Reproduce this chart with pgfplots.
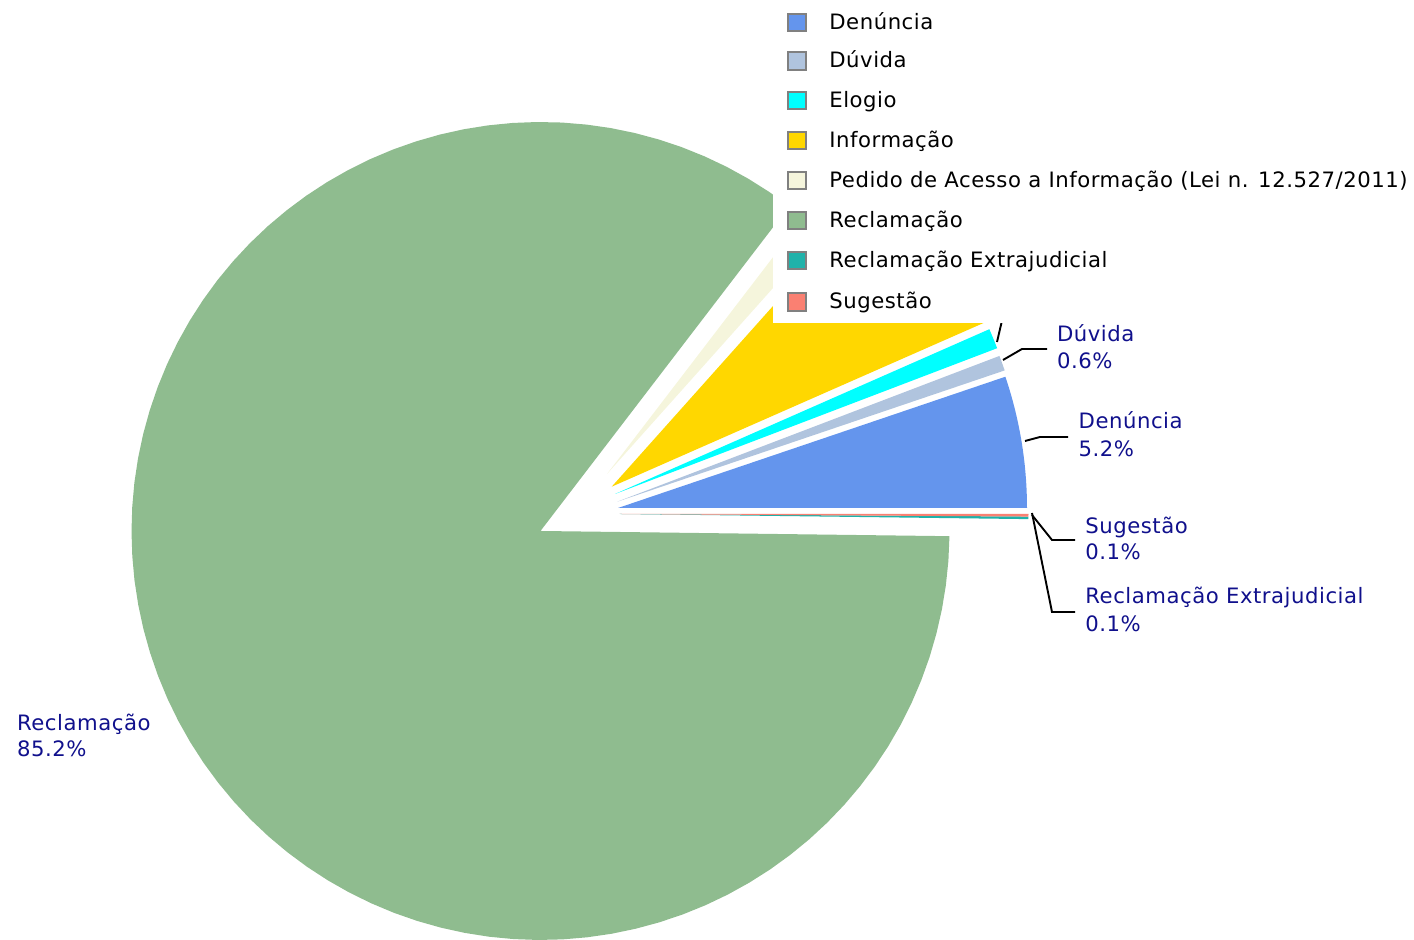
\documentclass[border=0pt]{standalone}
\usepackage{fontspec}
\setmainfont{DejaVu Sans}
\newfontfamily\spacedfont[LetterSpace=2.5]{DejaVu Sans}
\usepackage{pgfplots}
\usepackage{pgfplotstable}
\pgfplotsset{compat=1.18}

% slice colours, in the order of the legend
\definecolor{s0}{HTML}{6495ED} % Denuncia
\definecolor{s1}{HTML}{B0C4DE} % Duvida
\definecolor{s2}{HTML}{00FFFF} % Elogio
\definecolor{s3}{HTML}{FFD700} % Informacao
\definecolor{s4}{HTML}{F5F5DC} % Pedido de Acesso
\definecolor{s5}{HTML}{8FBC8F} % Reclamacao
\definecolor{s6}{HTML}{20B2AA} % Reclamacao Extrajudicial
\definecolor{s7}{HTML}{FA8072} % Sugestao
\definecolor{labelblue}{RGB}{16,16,140}
\definecolor{legborder}{RGB}{128,128,128}

% percent of each slice and how far it is pulled out (dx, dy)
\pgfplotstableread{
pct  dx   dy
5.2  77.5 23.0
0.6  76.8 29.3
0.8  74.5 37.0
6.8  71.2 44.3
1.2  66.5 57.0
85.2 0    0
0.1  79   17
0.1  79   17
}\piedata

\def\cx{540.5}
\def\cy{-531}
\def\R{409}

\newcommand\legfont{\spacedfont\fontsize{10.6}{12}\selectfont}
\newcommand\labfont{\spacedfont\fontsize{10.6}{12}\selectfont}

\newcommand\legrow[3]{%
  \filldraw[fill=#2, draw=legborder, line width=1pt]
    (axis cs:788,-#1+15.5) rectangle (axis cs:805.5,-#1-2);
  \node[anchor=base west, inner sep=0pt, font=\legfont] at (axis cs:829,-#1) {#3};
}
\newcommand\pielabel[3]{% x, baseline, text
  \node[anchor=base west, inner sep=0pt, font=\labfont, text=labelblue] at (axis cs:#1,-#2) {#3};
}

\begin{document}
\begin{tikzpicture}
\begin{axis}[
  name=ax,
  width=707pt, height=470pt,
  scale only axis,
  hide axis,
  clip=false,
  xmin=0, xmax=1414,
  ymin=-940, ymax=0]

\def\angA{0}
\pgfplotsforeachungrouped \i in {0,...,7}{%
  \pgfplotstablegetelem{\i}{pct}\of\piedata \let\p\pgfplotsretval
  \pgfplotstablegetelem{\i}{dx}\of\piedata \let\ddx\pgfplotsretval
  \pgfplotstablegetelem{\i}{dy}\of\piedata \let\ddy\pgfplotsretval
  \pgfmathsetmacro\angB{\angA+3.6*\p}
  \pgfmathsetmacro\sx{\cx+\ddx}
  \pgfmathsetmacro\sy{\cy+\ddy}
  \edef\doslice{\noexpand\addplot[fill=s\i, draw=none, domain=\angA:\angB,
      samples=90, variable=\noexpand\t]
    ({\sx+\R*cos(\noexpand\t)}, {\sy+\R*sin(\noexpand\t)})
    -- (axis cs:\sx,\sy) -- cycle;}%
  \doslice
  \let\angA\angB
}

% leader lines
\draw[line width=0.95pt] (axis cs:997,-342) -- (axis cs:1004,-312);
\draw[line width=0.95pt] (axis cs:1003,-360) -- (axis cs:1022,-349) -- (axis cs:1047,-349);
\draw[line width=0.95pt] (axis cs:1025,-441) -- (axis cs:1040,-437) -- (axis cs:1068,-437);
\draw[line width=0.95pt] (axis cs:1032,-515) -- (axis cs:1052,-540) -- (axis cs:1075,-540);
\draw[line width=0.95pt] (axis cs:1032,-513) -- (axis cs:1052,-612) -- (axis cs:1075,-612);

% slice labels
\pielabel{1056.7}{341.7}{Dúvida}
\pielabel{1056.7}{368.3}{0.6\%}
\pielabel{1078.3}{428.3}{Denúncia}
\pielabel{1078.3}{456.7}{5.2\%}
\pielabel{1085}{533.3}{Sugestão}
\pielabel{1085}{560}{0.1\%}
\pielabel{1085}{604}{Reclamação Extrajudicial}
\pielabel{1085}{631.7}{0.1\%}
\pielabel{16.7}{730.7}{Reclamação}
\pielabel{16.7}{756.7}{85.2\%}

% legend
\fill[white] (axis cs:773,0) rectangle (axis cs:1414,-323);
\legrow{29.5}{s0}{Denúncia}
\legrow{67.6}{s1}{Dúvida}
\legrow{107.5}{s2}{Elogio}
\legrow{147.5}{s3}{Informação}
\legrow{187.5}{s4}{Pedido de Acesso a Informação (Lei n. 12.527/2011)}
\legrow{227.5}{s5}{Reclamação}
\legrow{267.5}{s6}{Reclamação Extrajudicial}
\legrow{309}{s7}{Sugestão}
\end{axis}
\pgfresetboundingbox
\useasboundingbox (ax.south west) rectangle (ax.north east);
\end{tikzpicture}
\end{document}
